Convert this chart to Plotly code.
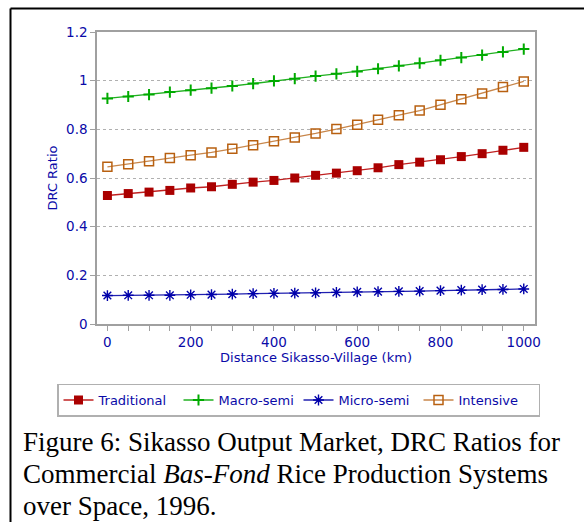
import plotly.graph_objects as go

distance = [0, 50, 100, 150, 200, 250, 300, 350, 400, 450, 500, 550, 600, 650, 700, 750, 800, 850, 900, 950, 1000]

traditional = [0.528, 0.536, 0.542, 0.549, 0.559, 0.564, 0.574, 0.583, 0.590, 0.600, 0.611, 0.620, 0.630, 0.642,
               0.655, 0.665, 0.675, 0.688, 0.700, 0.714, 0.726]
macro_semi = [0.927, 0.935, 0.943, 0.953, 0.961, 0.969, 0.978, 0.988, 0.999, 1.008, 1.019, 1.028, 1.038, 1.049,
              1.061, 1.072, 1.084, 1.095, 1.105, 1.118, 1.130]
micro_semi = [0.117, 0.118, 0.118, 0.118, 0.120, 0.121, 0.123, 0.125, 0.126, 0.127, 0.128, 0.130, 0.132, 0.133,
              0.134, 0.135, 0.137, 0.139, 0.141, 0.142, 0.144]
intensive = [0.646, 0.657, 0.669, 0.682, 0.694, 0.705, 0.720, 0.735, 0.751, 0.766, 0.783, 0.801, 0.819, 0.839,
             0.858, 0.877, 0.901, 0.924, 0.947, 0.974, 0.997]

caption_lines = [
    "Figure 6: Sikasso Output Market, DRC Ratios for",
    "Commercial <i>Bas-Fond</i> Rice Production Systems",
    "over Space, 1996.",
]

series = [
    ("Traditional", traditional, "#aa0000", "#c02020", "square", 9, 0),
    ("Macro-semi", macro_semi, "#00aa00", "#20b020", "cross-thin", 8, 2),
    ("Micro-semi", micro_semi, "#0000aa", "#2020b0", "asterisk", 9, 1.4),
    ("Intensive", intensive, "#b86010", "#c8864a", "square-open", 9, 1.5),
]

TXT = "#0a0aa8"
FONT = "DejaVu Sans"

fig = go.Figure()
for name, vals, mcol, lcol, sym, size, lw in series:
    fig.add_trace(go.Scatter(
        x=distance, y=vals, name=name, mode="lines+markers",
        line=dict(color=lcol, width=1.3),
        marker=dict(symbol=sym, size=size, color=mcol, line=dict(color=mcol, width=lw)),
    ))

W, H = 584, 522
L, R, T, B = 97, 49, 31.5, 197.7
pw = W - L - R
ph = H - T - B

def px_x(p):
    return (p - L) / pw

def px_y(p):
    return (H - B - p) / ph

annotations = []
for i, line in enumerate(caption_lines):
    annotations.append(dict(
        text=line, xref="paper", yref="paper", x=px_x(21), y=px_y(443 + 32 * i),
        xanchor="left", yanchor="middle", align="left", showarrow=False,
        font=dict(family="Liberation Serif", size=27, color="black"),
    ))

fig.update_layout(
    width=W, height=H,
    margin=dict(l=L, r=R, t=T, b=B, pad=0),
    paper_bgcolor="white", plot_bgcolor="white",
    font=dict(family=FONT, size=13, color=TXT),
    showlegend=True,
    legend=dict(
        orientation="h", x=px_x(57), y=px_y(384), xanchor="left", yanchor="top",
        bordercolor="#b0b0b0", borderwidth=1.5, bgcolor="white",
        font=dict(family=FONT, size=13, color=TXT),
        entrywidth=75, entrywidthmode="pixels",
        itemwidth=30,
    ),
    xaxis=dict(
        range=[-25, 1027], tickvals=[0, 200, 400, 600, 800, 1000],
        ticks="outside", ticklen=5, tickcolor="#a0a0a0",
        minor=dict(tickvals=distance, ticks="outside", ticklen=5, tickcolor="#a0a0a0", showgrid=False),
        showline=True, linecolor="#a0a0a0", linewidth=1.5, mirror=True,
        showgrid=False, zeroline=False,
        tickfont=dict(family=FONT, size=13.5, color=TXT),
        title=dict(text="Distance Sikasso-Village (km)", font=dict(family=FONT, size=13, color=TXT), standoff=4),
    ),
    yaxis=dict(
        range=[0, 1.2], tickvals=[0, 0.2, 0.4, 0.6, 0.8, 1, 1.2],
        ticktext=["0", "0.2", "0.4", "0.6", "0.8", "1", "1.2"],
        ticks="outside", ticklen=5, tickcolor="#a0a0a0",
        showline=True, linecolor="#a0a0a0", linewidth=1.5, mirror=True,
        showgrid=True, gridcolor="#b0b0b0", griddash="dot", gridwidth=1,
        zeroline=False,
        tickfont=dict(family=FONT, size=13.5, color=TXT),
        title=dict(text="DRC Ratio", font=dict(family=FONT, size=13, color=TXT), standoff=6),
    ),
    shapes=[
        dict(type="line", xref="paper", yref="paper", x0=px_x(10.5), x1=px_x(590), y0=px_y(8), y1=px_y(8),
             line=dict(color="black", width=2)),
        dict(type="line", xref="paper", yref="paper", x0=px_x(10.5), x1=px_x(10.5), y0=px_y(8), y1=px_y(530),
             line=dict(color="black", width=2)),
    ],
    annotations=annotations,
)

fig.write_html("out.html", config={"displayModeBar": False},
               post_script="document.body.style.margin='0';")
